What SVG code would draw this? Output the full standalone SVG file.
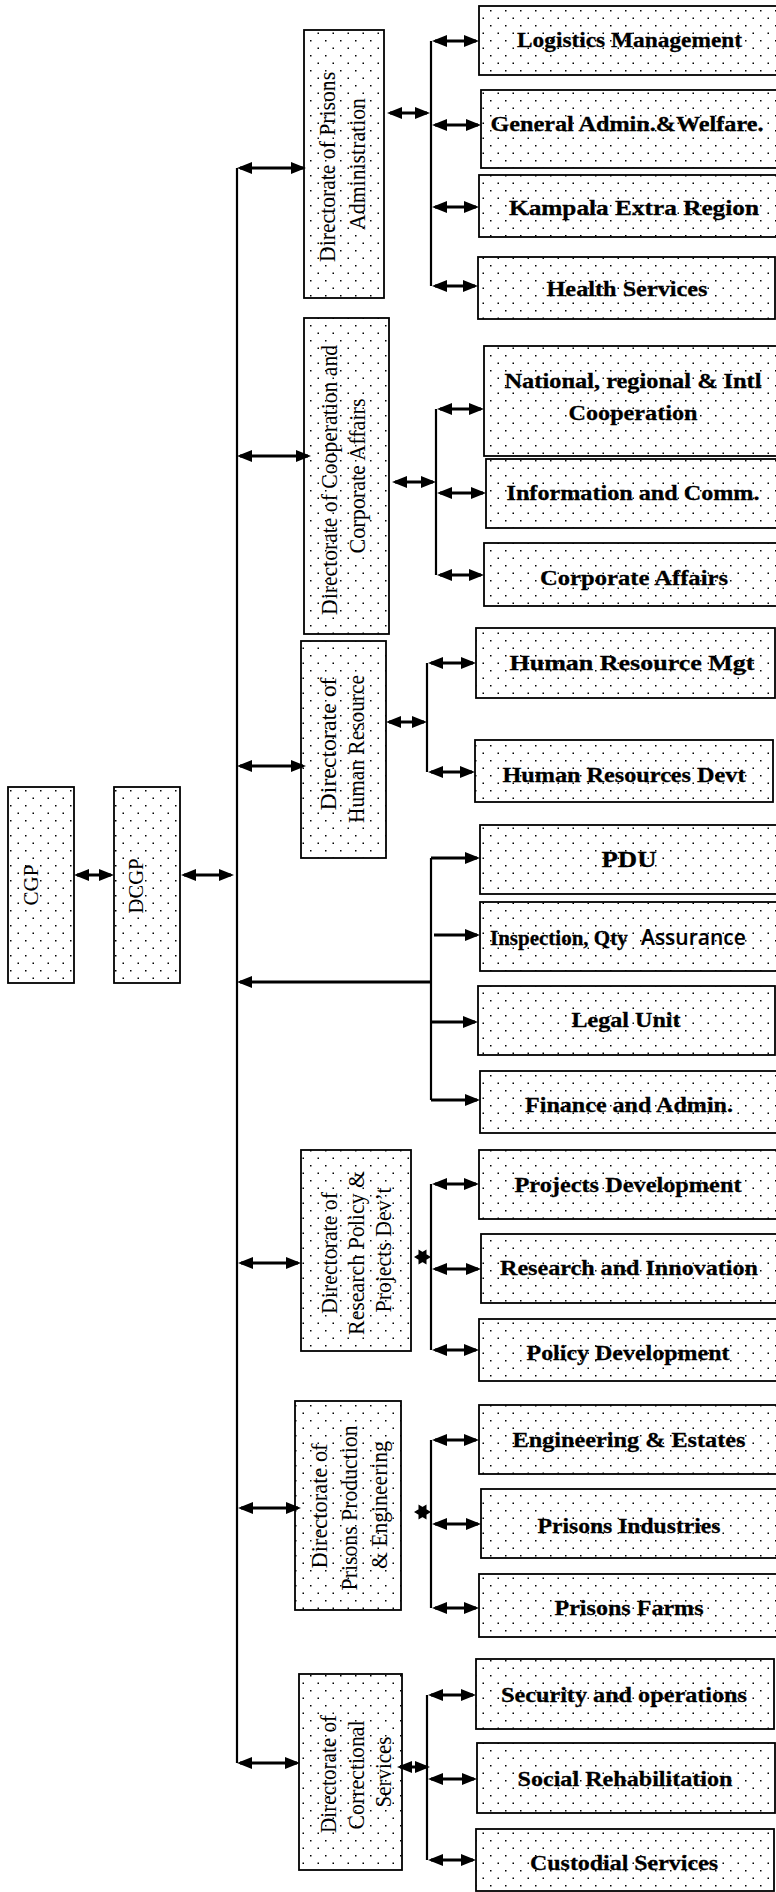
<svg xmlns="http://www.w3.org/2000/svg" width="776" height="1892" viewBox="0 0 776 1892">
  <defs>
    <pattern id="dots" patternUnits="userSpaceOnUse" width="15" height="15">
      <rect x="2.5" y="2.5" width="1.5" height="1.5" fill="#000"/>
      <rect x="10" y="10" width="1.5" height="1.5" fill="#000"/>
    </pattern>
    <marker id="ah" viewBox="0 0 15 12" refX="12" refY="6" markerWidth="15" markerHeight="12" markerUnits="userSpaceOnUse" orient="auto-start-reverse">
      <path d="M0,0 L15,6 L0,12 Z" fill="#000"/>
    </marker>
    <!-- two facing heads squeezed into a six-point star -->
    <path id="star" d="M-8.5,0 L4,-7.5 L4,7.5 Z M8.5,0 L-4,7.5 L-4,-7.5 Z" fill="#000"/>
    <style>
      .box { fill: url(#dots); stroke: #000; stroke-width: 1.8; }
      .dir { font-family: "Liberation Serif", "Times New Roman", serif; font-size: 23.5px; fill: #000; text-anchor: middle; }
      .top { font-family: "Liberation Serif", "Times New Roman", serif; font-size: 21.5px; fill: #000; text-anchor: middle; }
      .lbl { font-family: "Liberation Serif", "Times New Roman", serif; font-size: 22px; font-weight: bold; fill: #000; stroke: #000; stroke-width: 0.3; text-anchor: middle; }
      .bus { stroke: #000; stroke-width: 2.2; fill: none; }
      .arr { stroke: #000; stroke-width: 3; fill: none; marker-end: url(#ah); }
      .dbl { marker-start: url(#ah); }
    </style>
  </defs>

  <rect x="0" y="0" width="776" height="1892" fill="#fff"/>

  <!-- Top management -->
  <g id="cgp">
    <rect class="box" x="8" y="787" width="66" height="196"/>
    <text class="top" transform="rotate(-90)" x="-885" y="38" textLength="41" lengthAdjust="spacingAndGlyphs">CGP</text>
  </g>
  <g id="dcgp">
    <rect class="box" x="114" y="787" width="66" height="196"/>
    <text class="top" transform="rotate(-90)" x="-886" y="143" textLength="55" lengthAdjust="spacingAndGlyphs">DCGP</text>
  </g>

  <!-- Directorates -->
  <g id="dir-prisons-admin">
    <rect class="box" x="304" y="30" width="80" height="268"/>
    <text class="dir" transform="rotate(-90)">
      <tspan x="-164" y="335" textLength="190" lengthAdjust="spacingAndGlyphs">Directorate of Prisons</tspan>
      <tspan x="-164" y="365" textLength="132" lengthAdjust="spacingAndGlyphs">Administration</tspan>
    </text>
  </g>
  <g id="dir-cooperation">
    <rect class="box" x="304" y="318" width="85" height="316"/>
    <text class="dir" transform="rotate(-90)">
      <tspan x="-477" y="337" textLength="270" lengthAdjust="spacingAndGlyphs">Directorate of Cooperation and</tspan>
      <tspan x="-476" y="365" textLength="155" lengthAdjust="spacingAndGlyphs">Corporate Affairs</tspan>
    </text>
  </g>
  <g id="dir-human-resource">
    <rect class="box" x="301" y="641" width="85" height="217"/>
    <text class="dir" transform="rotate(-90)">
      <tspan x="-741" y="336" textLength="133" lengthAdjust="spacingAndGlyphs">Directorate of</tspan>
      <tspan x="-749" y="364" textLength="148" lengthAdjust="spacingAndGlyphs">Human Resource</tspan>
    </text>
  </g>
  <g id="dir-research-policy">
    <rect class="box" x="301" y="1150" width="110" height="201"/>
    <text class="dir" transform="rotate(-90)">
      <tspan x="-1250" y="337" textLength="122" lengthAdjust="spacingAndGlyphs">Directorate of</tspan>
      <tspan x="-1250" y="364" textLength="164" lengthAdjust="spacingAndGlyphs">Research Policy &amp;</tspan>
      <tspan x="-1250" y="391" textLength="125" lengthAdjust="spacingAndGlyphs">Projects Dev’t</tspan>
    </text>
  </g>
  <g id="dir-production-engineering">
    <rect class="box" x="295" y="1401" width="106" height="209"/>
    <text class="dir" transform="rotate(-90)">
      <tspan x="-1503" y="327" textLength="125" lengthAdjust="spacingAndGlyphs">Directorate of</tspan>
      <tspan x="-1505" y="357" textLength="165" lengthAdjust="spacingAndGlyphs">Prisons Production</tspan>
      <tspan x="-1505" y="387" textLength="128" lengthAdjust="spacingAndGlyphs">&amp; Engineering</tspan>
    </text>
  </g>
  <g id="dir-correctional">
    <rect class="box" x="299" y="1674" width="103" height="196"/>
    <text class="dir" transform="rotate(-90)">
      <tspan x="-1771" y="336" textLength="118" lengthAdjust="spacingAndGlyphs">Directorate of</tspan>
      <tspan x="-1772" y="364" textLength="109" lengthAdjust="spacingAndGlyphs">Correctional</tspan>
      <tspan x="-1772" y="391" textLength="71" lengthAdjust="spacingAndGlyphs">Services</tspan>
    </text>
  </g>

  <!-- Departments and units -->
  <g id="logistics">
    <rect class="box" x="479" y="6" width="300" height="69"/>
    <text class="lbl" x="629.5" y="47" textLength="225" lengthAdjust="spacingAndGlyphs">Logistics Management</text>
  </g>
  <g id="general-admin">
    <rect class="box" x="481" y="90" width="298" height="78"/>
    <text class="lbl" x="627" y="131" textLength="273" lengthAdjust="spacingAndGlyphs">General Admin.&amp;Welfare.</text>
  </g>
  <g id="kampala-extra">
    <rect class="box" x="479" y="175" width="300" height="62"/>
    <text class="lbl" x="634" y="215" textLength="250" lengthAdjust="spacingAndGlyphs">Kampala Extra Region</text>
  </g>
  <g id="health">
    <rect class="box" x="478" y="257" width="297" height="62"/>
    <text class="lbl" x="627" y="296" textLength="161" lengthAdjust="spacingAndGlyphs">Health Services</text>
  </g>
  <g id="national-cooperation">
    <rect class="box" x="484" y="346" width="295" height="110"/>
    <text class="lbl" x="633" y="388" textLength="257" lengthAdjust="spacingAndGlyphs">National, regional &amp; Intl</text>
    <text class="lbl" x="633" y="420" textLength="129" lengthAdjust="spacingAndGlyphs">Cooperation</text>
  </g>
  <g id="information-comm">
    <rect class="box" x="486" y="459" width="293" height="69"/>
    <text class="lbl" x="633" y="500" textLength="253" lengthAdjust="spacingAndGlyphs">Information and Comm.</text>
  </g>
  <g id="corporate-affairs">
    <rect class="box" x="484" y="543" width="295" height="63"/>
    <text class="lbl" x="634" y="585" textLength="188" lengthAdjust="spacingAndGlyphs">Corporate Affairs</text>
  </g>
  <g id="hr-mgt">
    <rect class="box" x="476" y="628" width="299" height="70"/>
    <text class="lbl" x="632" y="670" textLength="245" lengthAdjust="spacingAndGlyphs">Human Resource Mgt</text>
  </g>
  <g id="hr-devt">
    <rect class="box" x="475" y="740" width="298" height="62"/>
    <text class="lbl" x="624" y="782" textLength="243" lengthAdjust="spacingAndGlyphs">Human Resources Devt</text>
  </g>
  <g id="pdu">
    <rect class="box" x="480" y="825" width="299" height="69"/>
    <text class="lbl" x="629" y="867" style="font-size:23.5px" textLength="55" lengthAdjust="spacingAndGlyphs">PDU</text>
  </g>
  <g id="inspection">
    <rect class="box" x="480" y="902" width="299" height="69"/>
    <text class="lbl" x="490" y="945" style="text-anchor:start;font-size:21px">Inspection, Qty <tspan x="641" style="font-family:'Open Sans','Liberation Sans',sans-serif;font-weight:600;font-size:21px;stroke-width:0.15">Assurance</tspan></text>
  </g>
  <g id="legal">
    <rect class="box" x="478" y="986" width="297" height="69"/>
    <text class="lbl" x="626" y="1027" textLength="109" lengthAdjust="spacingAndGlyphs">Legal Unit</text>
  </g>
  <g id="finance">
    <rect class="box" x="480" y="1071" width="299" height="62"/>
    <text class="lbl" x="629" y="1112" textLength="208" lengthAdjust="spacingAndGlyphs">Finance and Admin.</text>
  </g>
  <g id="projects-dev">
    <rect class="box" x="479" y="1150" width="300" height="69"/>
    <text class="lbl" x="628" y="1192" textLength="227" lengthAdjust="spacingAndGlyphs">Projects Development</text>
  </g>
  <g id="research-innovation">
    <rect class="box" x="481" y="1234" width="298" height="69"/>
    <text class="lbl" x="629" y="1275" textLength="258" lengthAdjust="spacingAndGlyphs">Research and Innovation</text>
  </g>
  <g id="policy-dev">
    <rect class="box" x="479" y="1319" width="300" height="62"/>
    <text class="lbl" x="628" y="1360" textLength="203" lengthAdjust="spacingAndGlyphs">Policy Development</text>
  </g>
  <g id="engineering-estates">
    <rect class="box" x="479" y="1405" width="300" height="69"/>
    <text class="lbl" x="629" y="1447" textLength="233" lengthAdjust="spacingAndGlyphs">Engineering &amp; Estates</text>
  </g>
  <g id="prisons-industries">
    <rect class="box" x="481" y="1489" width="298" height="69"/>
    <text class="lbl" x="629" y="1533" textLength="183" lengthAdjust="spacingAndGlyphs">Prisons Industries</text>
  </g>
  <g id="prisons-farms">
    <rect class="box" x="479" y="1574" width="300" height="63"/>
    <text class="lbl" x="629" y="1615" textLength="149" lengthAdjust="spacingAndGlyphs">Prisons Farms</text>
  </g>
  <g id="security-operations">
    <rect class="box" x="476" y="1659" width="298" height="70"/>
    <text class="lbl" x="624" y="1702" textLength="246" lengthAdjust="spacingAndGlyphs">Security and operations</text>
  </g>
  <g id="social-rehab">
    <rect class="box" x="477" y="1743" width="298" height="70"/>
    <text class="lbl" x="625" y="1786" textLength="215" lengthAdjust="spacingAndGlyphs">Social Rehabilitation</text>
  </g>
  <g id="custodial">
    <rect class="box" x="476" y="1829" width="298" height="62"/>
    <text class="lbl" x="624" y="1870" textLength="188" lengthAdjust="spacingAndGlyphs">Custodial Services</text>
  </g>

  <!-- Connectors -->
  <g id="connectors">
    <!-- trunk and branch buses -->
    <line class="bus" x1="237" y1="168" x2="237" y2="1763"/>
    <line class="bus" x1="431" y1="41" x2="431" y2="286"/>
    <line class="bus" x1="436" y1="409" x2="436" y2="575"/>
    <line class="bus" x1="427" y1="663" x2="427" y2="772"/>
    <line class="bus" x1="431" y1="858" x2="431" y2="1100"/>
    <line class="bus" x1="431" y1="1184" x2="431" y2="1350"/>
    <line class="bus" x1="431" y1="1440" x2="431" y2="1608"/>
    <line class="bus" x1="427" y1="1695" x2="427" y2="1860"/>

    <!-- CGP / DCGP -->
    <line class="arr dbl" x1="77" y1="875" x2="111" y2="875"/>
    <line class="arr dbl" x1="184" y1="875" x2="231" y2="875"/>

    <!-- trunk to directorates -->
    <line class="arr dbl" x1="240" y1="168" x2="303" y2="168"/>
    <line class="arr dbl" x1="240" y1="456" x2="308" y2="456"/>
    <line class="arr dbl" x1="240" y1="766" x2="303" y2="766"/>
    <line class="arr dbl" x1="241" y1="1263" x2="298" y2="1263"/>
    <line class="arr dbl" x1="241" y1="1508" x2="298" y2="1508"/>
    <line class="arr dbl" x1="240" y1="1763" x2="297" y2="1763"/>
    <line class="arr" x1="431" y1="982" x2="240" y2="982"/>

    <!-- directorates to their buses -->
    <line class="arr dbl" x1="390" y1="113" x2="427" y2="113"/>
    <line class="arr dbl" x1="395" y1="482" x2="433" y2="482"/>
    <line class="arr dbl" x1="389" y1="722" x2="424" y2="722"/>
    <use href="#star" x="422.5" y="1257"/>
    <use href="#star" x="422.5" y="1512"/>
    <line class="arr dbl" x1="400" y1="1767" x2="427" y2="1767"/>

    <!-- Prisons Administration branches -->
    <line class="arr dbl" x1="435" y1="41" x2="476" y2="41"/>
    <line class="arr dbl" x1="435" y1="125" x2="478" y2="125"/>
    <line class="arr dbl" x1="435" y1="207" x2="476" y2="207"/>
    <line class="arr dbl" x1="435" y1="286" x2="475" y2="286"/>

    <!-- Cooperation branches -->
    <line class="arr dbl" x1="440" y1="409" x2="481" y2="409"/>
    <line class="arr dbl" x1="440" y1="493" x2="483" y2="493"/>
    <line class="arr dbl" x1="440" y1="575" x2="481" y2="575"/>

    <!-- Human Resource branches -->
    <line class="arr dbl" x1="431" y1="663" x2="473" y2="663"/>
    <line class="arr dbl" x1="431" y1="772" x2="472" y2="772"/>

    <!-- units -->
    <line class="arr" x1="431" y1="858" x2="477" y2="858"/>
    <line class="arr" x1="434" y1="935" x2="477" y2="935"/>
    <line class="arr" x1="431" y1="1022" x2="475" y2="1022"/>
    <line class="arr" x1="431" y1="1100" x2="477" y2="1100"/>

    <!-- Research Policy branches -->
    <line class="arr dbl" x1="435" y1="1184" x2="476" y2="1184"/>
    <line class="arr dbl" x1="435" y1="1269" x2="478" y2="1269"/>
    <line class="arr dbl" x1="435" y1="1350" x2="476" y2="1350"/>

    <!-- Production & Engineering branches -->
    <line class="arr dbl" x1="435" y1="1440" x2="476" y2="1440"/>
    <line class="arr dbl" x1="435" y1="1524" x2="478" y2="1524"/>
    <line class="arr dbl" x1="435" y1="1608" x2="476" y2="1608"/>

    <!-- Correctional branches -->
    <line class="arr dbl" x1="431" y1="1695" x2="473" y2="1695"/>
    <line class="arr dbl" x1="431" y1="1779" x2="474" y2="1779"/>
    <line class="arr dbl" x1="431" y1="1860" x2="473" y2="1860"/>
  </g>
</svg>
